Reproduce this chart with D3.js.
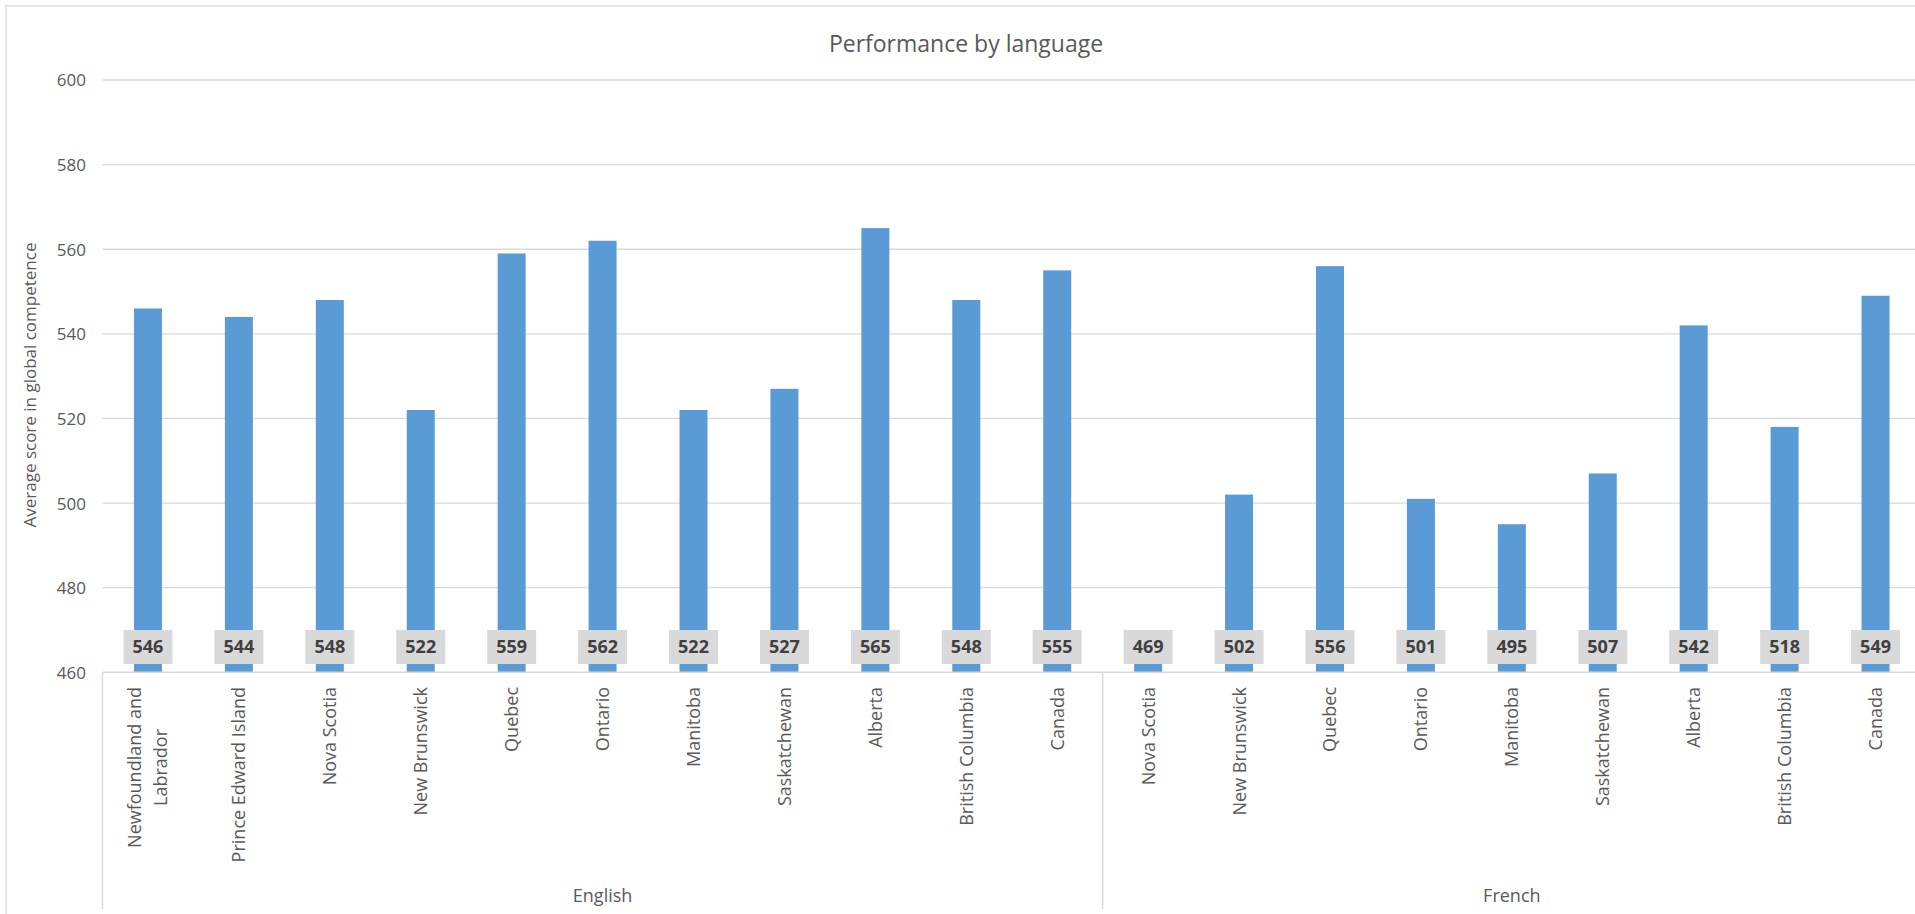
<!DOCTYPE html>
<html>
<head>
<meta charset="utf-8">
<script src="https://cdn.jsdelivr.net/npm/d3@7/dist/d3.min.js"></script>
<style>
  html, body { margin: 0; padding: 0; background: #ffffff; }
  svg { display: block; }
  text { font-family: "Open Sans", "Noto Sans", sans-serif; }
</style>
</head>
<body>
<svg id="chart" width="1915" height="914"></svg>
<script>
// ---- Data ----
const groups = ["English", "French"];
const englishCategories = ["Newfoundland and Labrador", "Prince Edward Island", "Nova Scotia", "New Brunswick", "Quebec", "Ontario", "Manitoba", "Saskatchewan", "Alberta", "British Columbia", "Canada"];
const englishValues = [546, 544, 548, 522, 559, 562, 522, 527, 565, 548, 555];
const frenchCategories = ["Nova Scotia", "New Brunswick", "Quebec", "Ontario", "Manitoba", "Saskatchewan", "Alberta", "British Columbia", "Canada"];
const frenchValues = [469, 502, 556, 501, 495, 507, 542, 518, 549];
const yTickValues = [460, 480, 500, 520, 540, 560, 580, 600];
const chartTitle = "Performance by language";
const yAxisTitle = "Average score in global competence";

// ---- Build rows ----
const rows = [];
englishCategories.forEach((c, i) => rows.push({ key: "English|" + c, group: "English", cat: c, value: englishValues[i] }));
frenchCategories.forEach((c, i) => rows.push({ key: "French|" + c, group: "French", cat: c, value: frenchValues[i] }));

const svg = d3.select("#chart");
const W = 1915, H = 914;
const plot = { left: 102.5, right: 1921, top: 80, bottom: 672.3 };

// frame
svg.append("rect").attr("x", 6).attr("y", 6).attr("width", 1920).attr("height", 920)
  .attr("fill", "#ffffff").attr("stroke", "#d9d9d9").attr("stroke-width", 1.3);

const x = d3.scaleBand().domain(rows.map(d => d.key))
  .range([plot.left, plot.right]).paddingInner(0.692).paddingOuter(0.346);
const y = d3.scaleLinear().domain([460, 600]).range([plot.bottom, plot.top]);

// gridlines
svg.append("g").selectAll("line").data(yTickValues.filter(v => v > 460)).join("line")
  .attr("x1", plot.left).attr("x2", plot.right)
  .attr("y1", d => y(d)).attr("y2", d => y(d))
  .attr("stroke", "#d9d9d9").attr("stroke-width", 1.3);

// y axis labels
const yAxis = d3.axisLeft(y).tickValues(yTickValues).tickSize(0).tickPadding(0).tickFormat(d3.format("d"));
const yg = svg.append("g").attr("transform", `translate(86,0)`).call(yAxis);
yg.select(".domain").remove();
yg.selectAll("text").attr("fill", "#595959").style("font-size", "17px")
  .style("font-family", '"Open Sans", sans-serif').attr("dy", "0.35em");

// bars
const step = x.step();
svg.append("g").selectAll("rect").data(rows).join("rect")
  .attr("x", d => x(d.key)).attr("width", x.bandwidth())
  .attr("y", d => y(d.value)).attr("height", d => y(460) - y(d.value))
  .attr("fill", "#5b9bd5");

// x axis baseline
svg.append("line").attr("x1", plot.left).attr("x2", plot.right)
  .attr("y1", plot.bottom).attr("y2", plot.bottom)
  .attr("stroke", "#d9d9d9").attr("stroke-width", 1.5);

// group separators
const groupBounds = groups.map(g => {
  const ks = rows.filter(r => r.group === g).map(r => r.key);
  const x0 = x(ks[0]) - x.paddingOuter() * step;
  const x1 = x(ks[ks.length - 1]) + x.bandwidth() + x.paddingOuter() * step;
  return { g, x0, x1 };
});
const sepXs = [groupBounds[0].x0, groupBounds[1].x0, groupBounds[1].x1];
svg.append("g").selectAll("line").data(sepXs).join("line")
  .attr("x1", d => d).attr("x2", d => d).attr("y1", plot.bottom).attr("y2", 909)
  .attr("stroke", "#d9d9d9").attr("stroke-width", 1.5);

// data labels
const lab = svg.append("g").selectAll("g").data(rows).join("g")
  .attr("transform", d => `translate(${x(d.key) + x.bandwidth() / 2},647)`);
lab.append("rect").attr("x", -24.5).attr("y", -17).attr("width", 49).attr("height", 34)
  .attr("fill", "#d9d9d9");
lab.append("text").attr("text-anchor", "middle").attr("dy", "0.36em")
  .attr("fill", "#404040").style("font-size", "18px").style("font-weight", "bold")
  .text(d => d3.format("d")(d.value));

// category labels (rotated, wrapped)
const catTop = 687, maxLen = 225, lineGap = 26, catFont = 18;
const measurer = svg.append("text").style("font-size", catFont + "px").attr("opacity", 0);
function measure(s) { measurer.text(s); return measurer.node().getComputedTextLength(); }
function wrap(s) {
  if (measure(s) <= maxLen) return [s];
  const words = s.split(" "); const lines = []; let cur = "";
  words.forEach(w => {
    const t = cur ? cur + " " + w : w;
    if (measure(t) > maxLen && cur) { lines.push(cur); cur = w; } else cur = t;
  });
  if (cur) lines.push(cur);
  return lines;
}
rows.forEach(r => {
  const lines = wrap(r.cat);
  const lens = lines.map(measure);
  const blockLen = d3.max(lens);
  const cx = x(r.key) + x.bandwidth() / 2;
  const n = lines.length;
  lines.forEach((ln, i) => {
    const off = (i - (n - 1) / 2) * lineGap;
    svg.append("text")
      .attr("transform", `translate(${cx + off + 6.5},${catTop + blockLen / 2}) rotate(-90)`)
      .attr("text-anchor", "middle").attr("fill", "#595959")
      .style("font-size", catFont + "px").text(ln);
  });
});
measurer.remove();

// group labels
svg.append("g").selectAll("text").data(groupBounds).join("text")
  .attr("x", d => (d.x0 + d.x1) / 2).attr("y", 902)
  .attr("text-anchor", "middle").attr("fill", "#595959").style("font-size", "18px")
  .text(d => d.g);

// title
svg.append("text").attr("x", 966).attr("y", 52).attr("text-anchor", "middle")
  .attr("fill", "#595959").style("font-size", "23px").text(chartTitle);

// y axis title
svg.append("text").attr("transform", `translate(36,385) rotate(-90)`)
  .attr("text-anchor", "middle").attr("fill", "#595959").style("font-size", "17px")
  .text(yAxisTitle);
</script>
</body>
</html>
